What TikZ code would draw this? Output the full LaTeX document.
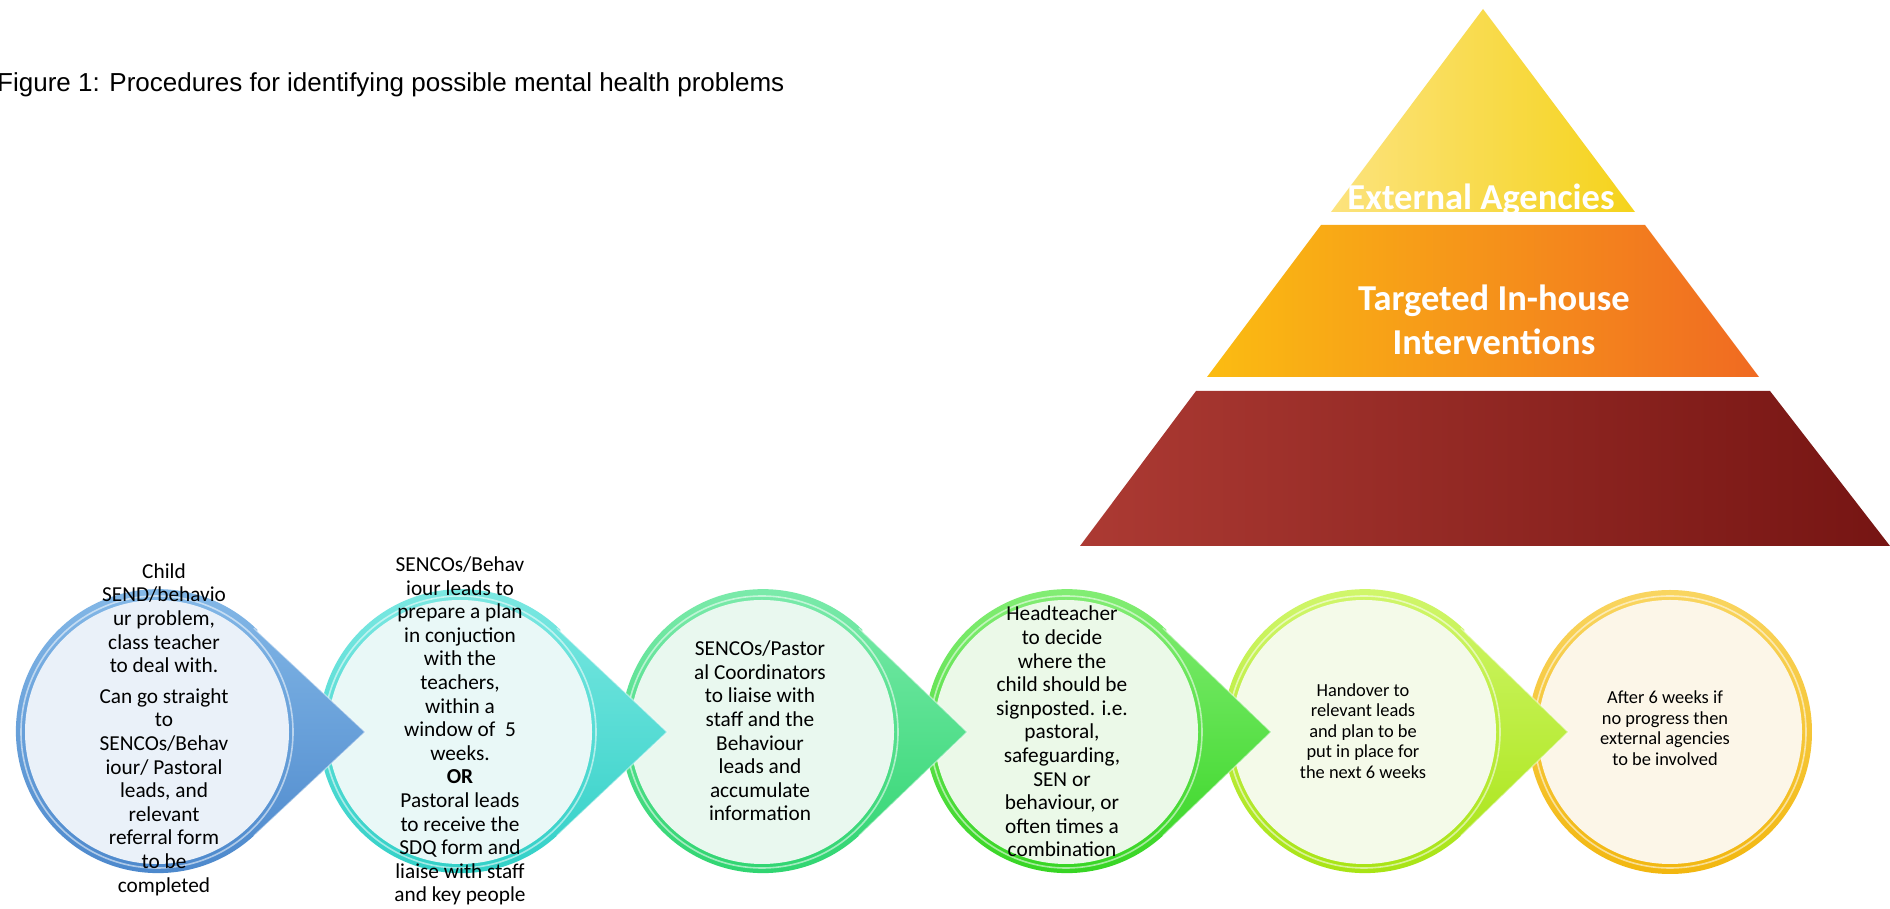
\documentclass[tikz,border=0pt]{standalone}
\usepackage{fontspec}
\setmainfont{Carlito}
\newfontfamily\arialf{Liberation Sans}
\definecolor{pyA1}{HTML}{FCE37E}
\definecolor{pyA2}{HTML}{F5D31B}
\definecolor{pyB1}{HTML}{FBBC12}
\definecolor{pyB2}{HTML}{F06A22}
\definecolor{pyC1}{HTML}{AC3A33}
\definecolor{pyC2}{HTML}{761513}
\definecolor{bluT}{HTML}{86BAE8}
\definecolor{bluB}{HTML}{4A86CB}
\definecolor{bluI}{HTML}{EAF1F9}
\definecolor{cyaT}{HTML}{7FE9E3}
\definecolor{cyaB}{HTML}{2FCFC6}
\definecolor{cyaI}{HTML}{E9F8F7}
\definecolor{teaT}{HTML}{7EEBAD}
\definecolor{teaB}{HTML}{2CD46E}
\definecolor{teaI}{HTML}{E9F8EF}
\definecolor{grnT}{HTML}{86EE78}
\definecolor{grnB}{HTML}{33D41F}
\definecolor{grnI}{HTML}{EBF9E8}
\definecolor{limT}{HTML}{D2F76F}
\definecolor{limB}{HTML}{A6E310}
\definecolor{limI}{HTML}{F4FAE9}
\definecolor{golT}{HTML}{F9D560}
\definecolor{golB}{HTML}{F2B70F}
\definecolor{golI}{HTML}{FCF6E8}
\newcommand\dropshape[4]{%
  \shade[top color=#2, bottom color=#3] (#1.45.5) -- (#1tip) -- (#1.-45.5)
     arc[start angle=-45.5, end angle=-314.5, radius=142] -- cycle;
  \draw[white, opacity=0.45, line width=1.4] (#1.47) -- (#1tip) -- (#1.-47);
  \draw[white, opacity=0.55, line width=1.6] (#1.center) circle[radius=136];
  \fill[#4] (#1.center) circle[radius=132];
}
\begin{document}
\begin{tikzpicture}[x=1pt,y=1pt,
  stage/.style={circle, minimum size=284pt, inner sep=0pt, outer sep=0pt},
  steptext/.style={align=center, font=\fontsize{21.3}{23.6}\selectfont, text=black, inner sep=0pt},
  smalltext/.style={align=center, font=\fontsize{18.4}{20.6}\selectfont, text=black, inner sep=0pt},
  pyrtext/.style={text=white, font=\bfseries\fontsize{36.5}{44}\selectfont, inner sep=0pt, anchor=base}]
\useasboundingbox (0,0) rectangle (1890,909);
\fill[white] (0,0) rectangle (1890,909);

% title
\node[anchor=base west, inner sep=0pt, font=\arialf\fontsize{26}{30}\selectfont] (title) at (-3,817)
  {Figure 1: Procedures for identifying possible mental health problems};

% pyramid
\shade[left color=pyA1, right color=pyA2] (1483,900) -- (1635,697) -- (1331,697) -- cycle;
\shade[left color=pyB1, right color=pyB2] (1321,684) -- (1645,684) -- (1759,532) -- (1207,532) -- cycle;
\shade[left color=pyC1, right color=pyC2] (1196,518) -- (1770,518) -- (1890,363) -- (1080,363) -- cycle;
\node[pyrtext] (ext) at (1481,699.5) {External Agencies};
\node[pyrtext] (tih) at (1494,598) {Targeted In-house};
\node[pyrtext] (intv) at (1494,554) {Interventions};

% stages
\node[stage] (s1) at (157,177) {};
\node[stage] (s2) at (460,177) {};
\node[stage] (s3) at (762,177) {};
\node[stage] (s4) at (1066,177) {};
\node[stage] (s5) at (1364,177) {};
\node[stage] (s6) at (1670,177) {};
\coordinate (s1tip) at (365,177);
\coordinate (s2tip) at (667,177);
\coordinate (s3tip) at (967,177);
\coordinate (s4tip) at (1271,177);
\coordinate (s5tip) at (1568,177);

\shade[top color=golT, bottom color=golB] (s6.center) circle[radius=142];
\draw[white, opacity=0.55, line width=1.6] (s6.center) circle[radius=136];
\fill[golI] (s6.center) circle[radius=132];
\dropshape{s5}{limT}{limB}{limI}
\dropshape{s4}{grnT}{grnB}{grnI}
\dropshape{s3}{teaT}{teaB}{teaI}
\dropshape{s2}{cyaT}{cyaB}{cyaI}
\dropshape{s1}{bluT}{bluB}{bluI}

% texts
\node[steptext] (t1) at (164,179.5) {Child\\SEND/behavio\\ur problem,\\class teacher\\to deal with.\\[7pt]Can go straight\\to\\SENCOs/Behav\\iour/ Pastoral\\leads, and\\relevant\\referral form\\to be\\completed};
\node[steptext] (t2) at (460,178) {SENCOs/Behav\\iour leads to\\prepare a plan\\in conjuction\\with the\\teachers,\\within a\\window of\ \ 5\\weeks.\\\textbf{OR}\\Pastoral leads\\to receive the\\SDQ form and\\liaise with staff\\and key people};
\node[steptext] (t3) at (760,178) {SENCOs/Pastor\\al Coordinators\\to liaise with\\staff and the\\Behaviour\\leads and\\accumulate\\information};
\node[steptext] (t4) at (1062,177.5) {Headteacher\\to decide\\where the\\child should be\\signposted. i.e.\\pastoral,\\safeguarding,\\SEN or\\behaviour, or\\often times a\\combination};
\node[smalltext] (t5) at (1363,178) {Handover to\\relevant leads\\and plan to be\\put in place for\\the next 6 weeks};
\node[smalltext] (t6) at (1665,181) {After 6 weeks if\\no progress then\\external agencies\\to be involved};
\end{tikzpicture}
\end{document}
